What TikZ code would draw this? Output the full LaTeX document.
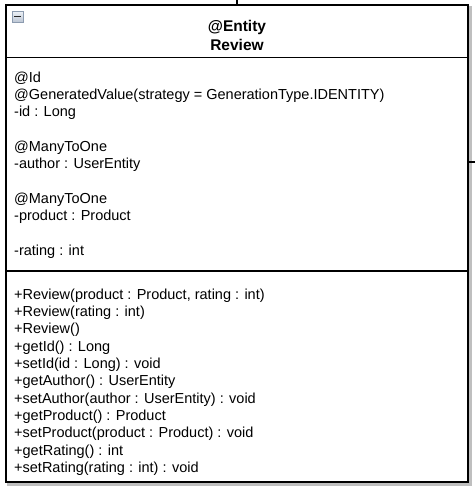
\documentclass[tikz,border=0pt]{standalone}
\usepackage{fontspec}
\setmainfont{Liberation Sans}

\definecolor{foldedge}{RGB}{140,155,175}
\definecolor{foldtop}{RGB}{238,242,247}
\definecolor{foldbottom}{RGB}{188,198,212}

\tikzset{
  member/.style={anchor=base west, inner sep=0pt, font=\fontsize{14.5}{17}\selectfont},
  classname/.style={anchor=base, inner sep=0pt, font=\bfseries\fontsize{15.5}{18}\selectfont},
  frame/.style={draw, line width=2.4pt, fill=white, inner sep=0pt, outer sep=0pt},
  divider/.style={line width=1.3pt},
}

\begin{document}
\begin{tikzpicture}[x=1pt,y=-1pt]
  \useasboundingbox (0,0) rectangle (475,488);

  % the class box with its grey shadow
  \draw[line width=2.4pt, gray!50] (8.5,7.5) rectangle (470.5,484.5);
  \node[frame, minimum width=462pt, minimum height=477pt] (review) at (237,243.5) {};

  % edges leaving the box
  \coordinate (up) at (237,0);
  \coordinate (out) at (475,162);
  \draw[line width=1.5pt] (up) -- (up |- review.north);
  \draw[line width=1.5pt] (out) -- (out -| review.east);

  % collapse button
  \node[draw=foldedge, line width=0.8pt, top color=foldtop, bottom color=foldbottom,
        minimum size=11pt, inner sep=0pt] (fold) at (17.5,16.5) {};
  \draw[line width=1.4pt, black!85] ([xshift=2.8pt]fold.west) -- ([xshift=-2.8pt]fold.east);

  \node[classname] (stereo) at (237,31) {@Entity};
  \node[classname] (name) at (237,50) {Review};

  \draw[divider] (review.west |- 0,57.5) -- (review.east |- 0,57.5);
  \draw[divider] (review.west |- 0,271) -- (review.east |- 0,271);

  % fields
  \foreach \y/\txt [count=\i] in {82/@Id,
      99.3/{@GeneratedValue(strategy = GenerationType.IDENTITY)},
      116.6/-id : Long,
      151.2/@ManyToOne,
      168.5/-author : UserEntity,
      203.1/@ManyToOne,
      220.4/-product : Product,
      255/-rating : int}
    \node[member] (field\i) at (14,\y) {\txt};

  % operations
  \foreach \txt [count=\i from 0] in {{+Review(product : Product, rating : int)},
      +Review(rating : int),
      +Review(),
      +getId() : Long,
      +setId(id : Long) : void,
      +getAuthor() : UserEntity,
      +setAuthor(author : UserEntity) : void,
      +getProduct() : Product,
      +setProduct(product : Product) : void,
      +getRating() : int,
      +setRating(rating : int) : void}
    \node[member] (op\i) at (14,299.3+17.3*\i) {\txt};
\end{tikzpicture}
\end{document}
